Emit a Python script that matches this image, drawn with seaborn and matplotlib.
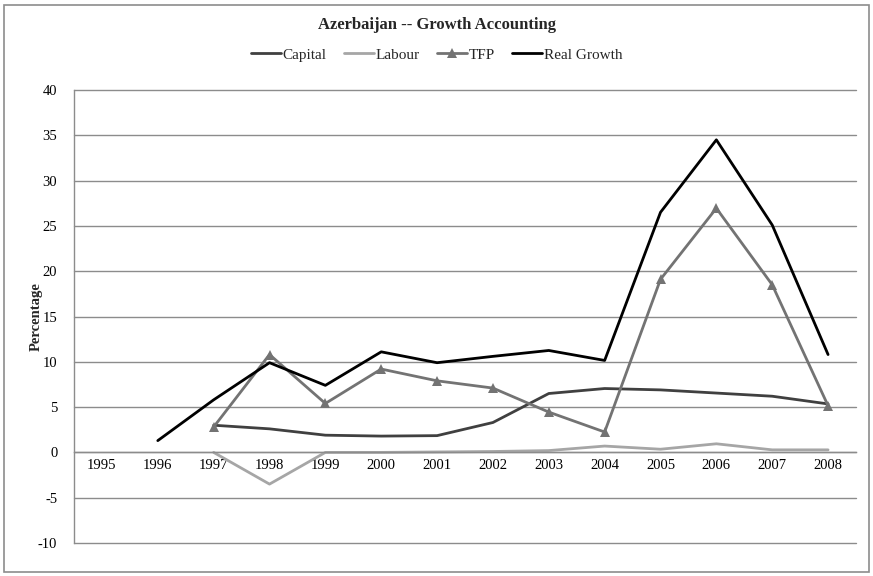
import numpy as np
import pandas as pd
import matplotlib
matplotlib.use("Agg")
import matplotlib.pyplot as plt
import seaborn as sns
from matplotlib.patches import Rectangle

years = list(range(1995, 2009))
capital = [np.nan, np.nan, 3.0, 2.6, 1.9, 1.8, 1.85, 3.3, 6.5, 7.05, 6.9, 6.55, 6.2, 5.35]
labour = [np.nan, np.nan, 0.0, -3.5, 0.0, 0.0, 0.05, 0.1, 0.2, 0.7, 0.35, 0.95, 0.28, 0.28]
tfp = [np.nan, np.nan, 2.8, 10.8, 5.4, 9.2, 7.9, 7.1, 4.45, 2.25, 19.1, 26.95, 18.5, 5.15]
real_growth = [np.nan, 1.3, 5.8, 9.9, 7.4, 11.1, 9.9, 10.6, 11.25, 10.15, 26.5, 34.5, 25.1, 10.8]

series_names = ["Capital", "Labour", "TFP", "Real Growth"]
series_colors = ["#404040", "#a6a6a6", "#737373", "#000000"]
y_ticks = list(range(-10, 45, 5))

sns.set_theme(style="white")
plt.rcParams["font.family"] = ["Liberation Serif", "DejaVu Serif"]
plt.rcParams["axes.unicode_minus"] = False

df = pd.DataFrame({"Year": years, "Capital": capital, "Labour": labour,
                   "TFP": tfp, "Real Growth": real_growth})

fig = plt.figure(figsize=(8.73, 5.76), dpi=100)
ax = fig.add_axes([74 / 873, 1 - 543 / 576, (856 - 74) / 873, (543 - 90) / 576])

for name, color in zip(series_names, series_colors):
    sub = df[["Year", name]].dropna()
    sns.lineplot(data=sub, x="Year", y=name, ax=ax, color=color, linewidth=2.0,
                 marker="^" if name == "TFP" else None, markersize=7,
                 markeredgewidth=0, label=name, legend=False)

ax.set_xlim(1994.5, 2008.5)
ax.set_ylim(-10, 40)
ax.set_yticks(y_ticks)
ax.set_xticks(years)
ax.set_xticklabels([str(y) for y in years])
ax.grid(axis="y", color="#8c8c8c", linewidth=1.0)
ax.grid(axis="x", visible=False)
for gl in ax.get_ygridlines():
    gl.set_clip_on(False)
ax.set_axisbelow(True)

for side in ["top", "right"]:
    ax.spines[side].set_visible(False)
ax.spines["left"].set_color("#8c8c8c")
ax.spines["left"].set_linewidth(1.0)
ax.spines["bottom"].set_position(("data", 0))
ax.spines["bottom"].set_color("#8c8c8c")
ax.spines["bottom"].set_linewidth(1.0)

ax.tick_params(axis="both", length=0, labelsize=10.5, colors="black")
ax.tick_params(axis="x", pad=5)
ax.tick_params(axis="y", pad=12)

ax.set_xlabel("")
ax.set_ylabel("Percentage", fontsize=10.5, fontweight="bold")
ax.yaxis.set_label_coords((43 - 74) / 782, 0.5)

fig.text(0.5, 1 - 25 / 576, "Azerbaijan -- Growth Accounting", ha="center", va="center",
         fontsize=12, fontweight="bold")

handles, labels = ax.get_legend_handles_labels()
fig.legend(handles, labels, loc="center", bbox_to_anchor=(0.5, 1 - 55 / 576), ncol=4,
           frameon=False, fontsize=11, handlelength=2.0, handletextpad=0.1,
           columnspacing=1.1, borderaxespad=0)

fig.patches.append(Rectangle((4 / 873, 4 / 576), 865 / 873, 567 / 576, transform=fig.transFigure,
                             fill=False, edgecolor="#8c8c8c", linewidth=1.2))

fig.savefig("out.png", dpi=100)
